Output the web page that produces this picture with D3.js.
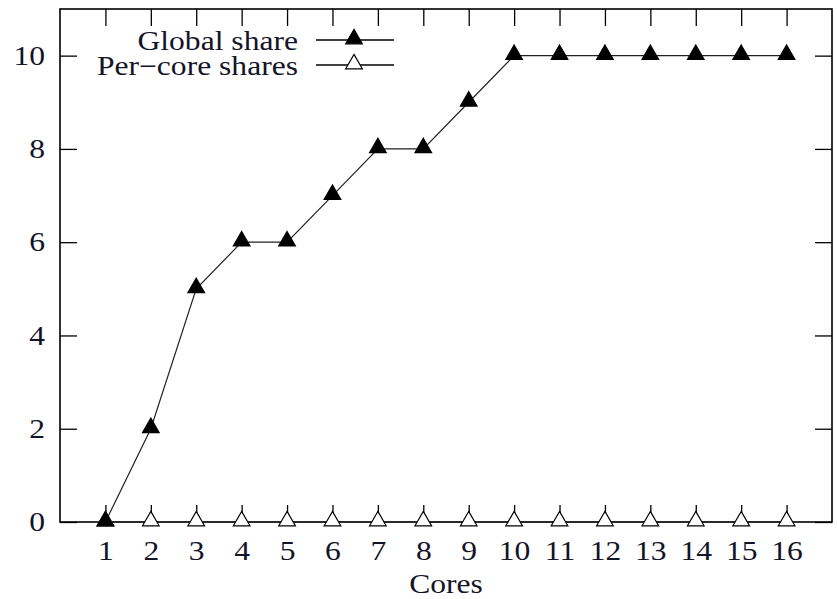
<!DOCTYPE html>
<html>
<head>
<meta charset="utf-8">
<script src="https://cdn.jsdelivr.net/npm/d3@7"></script>
<style>
  body { margin: 0; background: #fff; }
  text { font-family: "Liberation Serif", "Times New Roman", serif; fill: #141428; }
</style>
</head>
<body>
<div id="wrap"></div>
<script>
// 数据
const cores = [1, 2, 3, 4, 5, 6, 7, 8, 9, 10, 11, 12, 13, 14, 15, 16];
const globalShare = [0, 2, 5, 6, 6, 7, 8, 8, 9, 10, 10, 10, 10, 10, 10, 10];
const perCoreShares = [0, 0, 0, 0, 0, 0, 0, 0, 0, 0, 0, 0, 0, 0, 0, 0];
const yTicks = [0, 2, 4, 6, 8, 10];
const seriesNames = ["Global share", "Per\u2212core shares"];

chart()
function chart(){
  const WIDTH = 837;
  const HEIGHT = 599;
  const left = 60, right = 832, top = 9, bottom = 522;
  const TICK = 17;
  const FONT = '27px';
  const SX = 1.17; // 原图文字横向略宽

  let svg = d3.select('#wrap')
    .append('svg')
    .attr('width', WIDTH)
    .attr('height', HEIGHT)

  // 比例尺
  let xScale = d3.scaleLinear().domain([0, 17]).range([left, right])
  let yScale = d3.scaleLinear().domain([0, 11]).range([bottom, top])

  // 坐标轴 (刻度朝内, 四边镜像)
  let axisStyle = g => {
    g.select('.domain').remove()
    g.selectAll('.tick line').attr('stroke', '#000').attr('stroke-width', 1.3)
    g.selectAll('.tick text')
      .style('font-size', FONT)
      .attr('x', function(){ return (+d3.select(this).attr('x') || 0) / SX })
      .attr('transform', 'scale(' + SX + ',1)')
  }
  svg.append('g')
    .attr('transform', 'translate(0,' + bottom + ')')
    .call(d3.axisBottom(xScale).tickValues(cores).tickSizeInner(-TICK).tickPadding(19))
    .call(axisStyle)
  svg.append('g')
    .attr('transform', 'translate(0,' + top + ')')
    .call(d3.axisTop(xScale).tickValues(cores).tickSizeInner(-TICK).tickFormat(''))
    .call(axisStyle)
  svg.append('g')
    .attr('transform', 'translate(' + left + ',0)')
    .call(d3.axisLeft(yScale).tickValues(yTicks).tickSizeInner(-TICK).tickPadding(15))
    .call(axisStyle)
  svg.append('g')
    .attr('transform', 'translate(' + right + ',0)')
    .call(d3.axisRight(yScale).tickValues(yTicks).tickSizeInner(-TICK).tickFormat(''))
    .call(axisStyle)

  // 边框
  svg.append('rect')
    .attr('x', left).attr('y', top)
    .attr('width', right - left).attr('height', bottom - top)
    .attr('fill', 'none').attr('stroke', '#000').attr('stroke-width', 1.6)

  // x 轴标题
  svg.append('text')
    .attr('x', (left + right) / 2 / SX).attr('y', 593)
    .attr('transform', 'scale(' + SX + ',1)')
    .attr('text-anchor', 'middle')
    .style('font-size', FONT)
    .text('Cores')

  let line = d3.line().x(d => xScale(d[0])).y(d => yScale(d[1]))
  let tri = d3.symbol().type(d3.symbolTriangle).size(120)

  let series = [
    { name: seriesNames[1], values: perCoreShares, fill: '#fff' },
    { name: seriesNames[0], values: globalShare, fill: '#000' }
  ]

  series.forEach(s => {
    let pts = cores.map((c, i) => [c, s.values[i]])
    svg.append('path')
      .attr('d', line(pts))
      .attr('fill', 'none').attr('stroke', '#222').attr('stroke-width', 1.2)
    svg.append('g').selectAll('path')
      .data(pts)
      .enter()
      .append('path')
      .attr('d', tri)
      .attr('transform', d => 'translate(' + xScale(d[0]) + ',' + (yScale(d[1]) - 1) + ')')
      .attr('fill', s.fill).attr('stroke', '#000').attr('stroke-width', 1.2)
  })

  // 图例
  let legend = svg.append('g')
  ;[series[1], series[0]].forEach((s, i) => {
    let y = 40 + i * 25
    legend.append('text')
      .attr('x', 298 / SX).attr('y', y + 10)
      .attr('transform', 'scale(' + SX + ',1)')
      .attr('text-anchor', 'end')
      .style('font-size', FONT)
      .text(s.name)
    legend.append('line')
      .attr('x1', 316).attr('x2', 394).attr('y1', y).attr('y2', y)
      .attr('stroke', '#000').attr('stroke-width', 1.3)
    legend.append('path')
      .attr('d', tri)
      .attr('transform', 'translate(354,' + (y - 1) + ')')
      .attr('fill', s.fill).attr('stroke', '#000').attr('stroke-width', 1.2)
  })
}
</script>
</body>
</html>
